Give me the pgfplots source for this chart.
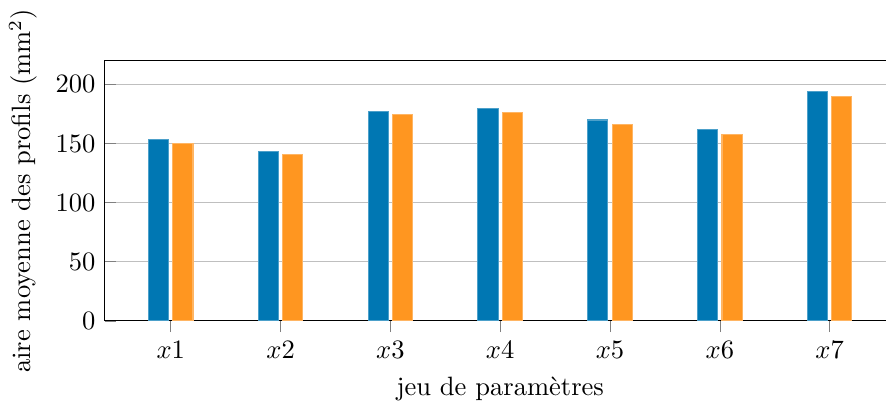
\documentclass[border=0pt]{standalone}
\usepackage{pgfplots}
\pgfplotsset{compat=1.18}
\definecolor{cblue}{RGB}{0,119,179}
\definecolor{corange}{RGB}{255,150,32}
\begin{document}
\begin{tikzpicture}
\begin{axis}[
  scale only axis,
  width=298pt, height=98pt,
  ybar, bar width=7.6pt, ybar=1.6pt,
  xmin=0.4, xmax=7.6,
  ymin=0, ymax=220,
  xtick={1,2,3,4,5,6,7},
  xticklabels={$x1$,$x2$,$x3$,$x4$,$x5$,$x6$,$x7$},
  ytick={0,50,100,150,200},
  ymajorgrids, grid style={gray!50},
  x tick style={gray}, y tick style={gray},
  xtick align=outside, ytick align=inside,
  ytick pos=left, xtick pos=bottom,
  xlabel={jeu de param\`etres},
  ylabel={aire moyenne des profils (mm\textsuperscript{2})},
]
\addplot[fill=cblue, draw=cblue!70] coordinates {(1,153.7) (2,143.5) (3,176.7) (4,179.8) (5,169.9) (6,162.2) (7,194.0)};
\addplot[fill=corange, draw=corange!70] coordinates {(1,150.0) (2,140.6) (3,174.4) (4,176.1) (5,165.9) (6,157.7) (7,190.1)};
\end{axis}
\pgfresetboundingbox
\path (current axis.outer south west) rectangle ([xshift=-3.8pt]current axis.outer north east);
\end{tikzpicture}
\end{document}
